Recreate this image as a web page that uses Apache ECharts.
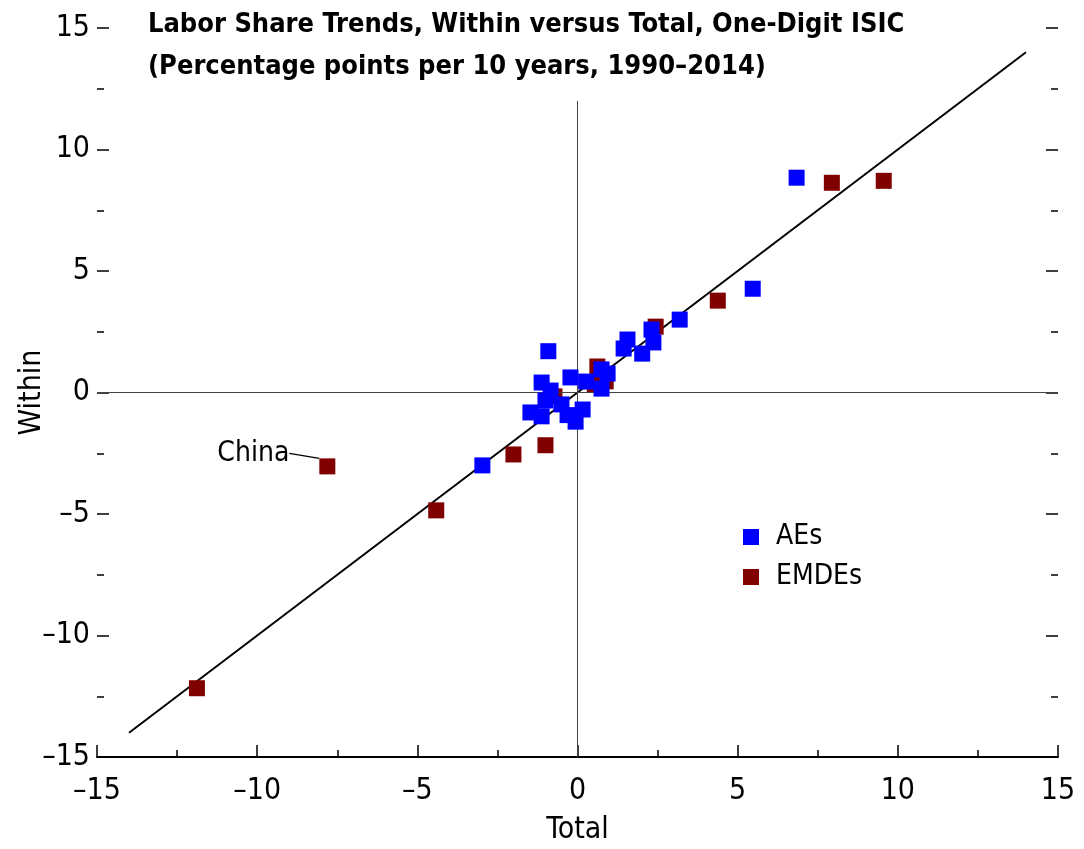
<!DOCTYPE html>
<html>
<head>
<meta charset="utf-8">
<script src="https://cdn.jsdelivr.net/npm/echarts@6/dist/echarts.min.js"></script>
<style>
  html, body { margin: 0; padding: 0; background: #fff; }
  #chart { width: 1084px; height: 849px; }
</style>
</head>
<body>
<div id="chart"></div>
<script>
// Labor share trends by country group: [Total, Within], percentage points per 10 years
const aes = [
  [6.84, 8.84], [5.47, 4.27], [3.19, 3.00], [2.31, 2.59], [1.56, 2.18],
  [1.44, 1.81], [2.02, 1.60], [2.37, 2.06], [-0.91, 1.70], [0.75, 0.95],
  [0.94, 0.78], [0.27, 0.45], [-0.22, 0.62], [0.75, 0.16], [-1.12, 0.41],
  [-0.84, 0.08], [-1.00, -0.33], [-1.47, -0.82], [-1.12, -0.98], [-0.50, -0.49],
  [-0.31, -0.93], [-0.06, -1.20], [0.16, -0.70], [-2.97, -3.00]
];
const emdes = [
  [9.56, 8.71], [7.94, 8.63], [4.38, 3.78], [2.44, 2.71], [0.62, 1.07],
  [0.88, 0.46], [0.54, 0.33], [-0.72, -0.16], [-1.00, -2.17], [-2.00, -2.55],
  [-4.41, -4.85], [-11.88, -12.17]
];
const china = [[-7.81, -3.04]];
const chinaName = 'China';

// Fitted line endpoints
const fitLine = [[-14, -14], [14, 14]];

// Axis settings
const axisMin = -15, axisMax = 15, axisStep = 5;
const vZeroTop = 12;

const titleLines = [
  'Labor Share Trends, Within versus Total, One-Digit ISIC',
  '(Percentage points per 10 years, 1990\u20132014)'
];
const xName = 'Total', yName = 'Within';
const seriesNames = ['AEs', 'EMDEs'];

const FONT = '"Liberation Sans Narrow", "DejaVu Sans Condensed", "Liberation Sans", Arial, sans-serif';
const fmt = v => String(v).replace('-', '\u2013');

const chart = echarts.init(document.getElementById('chart'), null, { renderer: 'canvas' });

const tickStyle = { color: '#000', width: 1.5 };
const yAxisBase = {
  type: 'value', min: axisMin, max: axisMax, interval: axisStep,
  splitLine: { show: false },
  axisLine: { show: false, onZero: false },
  axisTick: { show: true, inside: true, length: 12, lineStyle: tickStyle },
  minorTick: { show: true, splitNumber: 2, length: 7, lineStyle: tickStyle },
  minorSplitLine: { show: false }
};

chart.setOption({
  animation: false,
  backgroundColor: '#fff',
  title: {
    text: titleLines.join('\n'),
    left: 148, top: 4, padding: 0,
    textStyle: { fontFamily: FONT, fontWeight: 'bold', fontSize: 27, color: '#000', lineHeight: 42 }
  },
  legend: {
    orient: 'vertical', left: 743, top: 523, padding: 0,
    itemWidth: 16, itemHeight: 16, itemGap: 12,
    icon: 'rect',
    textStyle: { fontFamily: FONT, fontSize: 28, color: '#000', padding: [0, 0, 0, 12] },
    data: seriesNames
  },
  grid: { left: 97, right: 26, top: 28, bottom: 92, containLabel: false, outerBoundsMode: 'none' },
  xAxis: {
    type: 'value', min: axisMin, max: axisMax, interval: axisStep,
    name: xName, nameLocation: 'middle', nameGap: 58, nameMoveOverlap: false,
    nameTextStyle: { fontFamily: FONT, fontSize: 30, color: '#000' },
    splitLine: { show: false },
    axisLine: { show: true, onZero: false, lineStyle: { color: '#000', width: 2 } },
    axisTick: { show: true, inside: true, length: 12, lineStyle: tickStyle },
    minorTick: { show: true, splitNumber: 2, length: 7, lineStyle: tickStyle },
    axisLabel: { fontFamily: FONT, fontSize: 30, color: '#000', margin: 19, formatter: fmt }
  },
  yAxis: [
    Object.assign({}, yAxisBase, {
      position: 'left',
      name: yName, nameLocation: 'middle', nameGap: 50, nameRotate: 90, nameMoveOverlap: false,
      nameTextStyle: { fontFamily: FONT, fontSize: 30, color: '#000' },
      axisLabel: { fontFamily: FONT, fontSize: 30, color: '#000', margin: 7, formatter: fmt }
    }),
    Object.assign({}, yAxisBase, {
      position: 'right',
      axisLabel: { show: false }
    })
  ],
  series: [
    {
      name: 'fit', type: 'line', data: fitLine, symbol: 'none', silent: true,
      lineStyle: { color: '#000', width: 2 }, z: 3,
      markLine: {
        silent: true, symbol: 'none', label: { show: false },
        lineStyle: { color: '#444', width: 1, type: 'solid' },
        data: [
          [{ coord: [0, axisMin] }, { coord: [0, vZeroTop] }],
          [{ coord: [axisMin, 0] }, { coord: [axisMax, 0] }]
        ]
      }
    },
    {
      name: seriesNames[1], type: 'scatter', data: emdes,
      symbol: 'rect', symbolSize: 16, itemStyle: { color: '#800000', opacity: 1 }, z: 4
    },
    {
      name: seriesNames[1], type: 'scatter', data: china,
      symbol: 'rect', symbolSize: 16, itemStyle: { color: '#800000', opacity: 1 }, z: 4,
      label: {
        show: true, position: 'left', distance: 5, formatter: chinaName,
        fontFamily: FONT, fontSize: 28, color: '#000'
      },
      labelLayout: { dx: -25, dy: -13 },
      labelLine: { show: true, lineStyle: { color: '#000', width: 1.2 } }
    },
    {
      name: seriesNames[0], type: 'scatter', data: aes,
      symbol: 'rect', symbolSize: 16, itemStyle: { color: '#0000ff', opacity: 1 }, z: 5
    }
  ]
});
</script>
</body>
</html>
